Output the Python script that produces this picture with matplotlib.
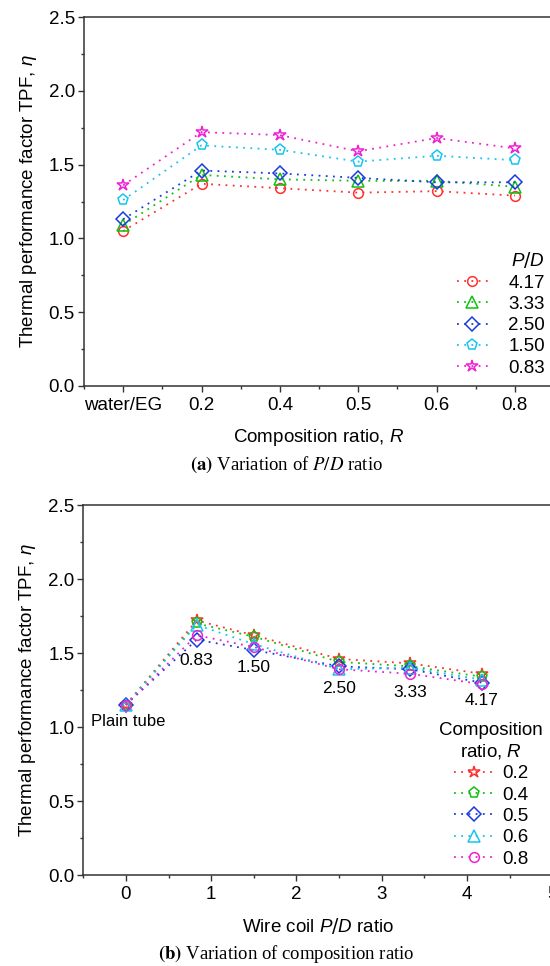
import numpy as np
import matplotlib
matplotlib.use('Agg')
import matplotlib.pyplot as plt
from matplotlib.ticker import MultipleLocator, FixedLocator

plt.rcParams['font.family'] = ['Liberation Sans', 'DejaVu Sans']
plt.rcParams['mathtext.fontset'] = 'custom'
plt.rcParams['mathtext.it'] = 'Liberation Sans:italic'

# panel (a): TPF vs composition ratio, one series per P/D
R_labels = ['water/EG', '0.2', '0.4', '0.5', '0.6', '0.8']
pd_names = ['4.17', '3.33', '2.50', '1.50', '0.83']
tpf_pd_417 = [1.05, 1.37, 1.34, 1.31, 1.32, 1.29]
tpf_pd_333 = [1.09, 1.43, 1.40, 1.39, 1.39, 1.35]
tpf_pd_250 = [1.13, 1.46, 1.44, 1.41, 1.38, 1.38]
tpf_pd_150 = [1.26, 1.63, 1.60, 1.52, 1.56, 1.53]
tpf_pd_083 = [1.36, 1.72, 1.70, 1.59, 1.68, 1.61]

# panel (b): TPF vs P/D, one series per composition ratio
pd_x = [0, 0.83, 1.5, 2.5, 3.33, 4.17]
pd_text = ['0.83', '1.50', '2.50', '3.33', '4.17']
r_names = ['0.2', '0.4', '0.5', '0.6', '0.8']
tpf_r_02 = [1.15, 1.72, 1.62, 1.46, 1.43, 1.36]
tpf_r_04 = [1.15, 1.70, 1.61, 1.44, 1.41, 1.34]
tpf_r_05 = [1.15, 1.59, 1.52, 1.41, 1.39, 1.30]
tpf_r_06 = [1.15, 1.69, 1.56, 1.39, 1.40, 1.32]
tpf_r_08 = [1.15, 1.62, 1.54, 1.39, 1.36, 1.29]

red = '#FF3030'
green = '#10C010'
blue = '#1A3AE0'
cyan = '#18C4F0'
mag = '#EE22D0'
dots = (0, (1, 3))
fs = 13.5

fig = plt.figure(figsize=[5.5, 9.66], dpi=100)
ax1 = fig.add_axes([84/550, 580/966, 470/550, 369/966])
ax2 = fig.add_axes([83.3/550, 91/966, 469/550, 370/966])

def style_axis(ax):
    ax.set_ylim(0, 2.5)
    ax.yaxis.set_major_locator(MultipleLocator(0.5))
    ax.yaxis.set_minor_locator(MultipleLocator(0.25))
    ax.tick_params(which='both', direction='out', labelsize=fs, colors='#333333', labelcolor='black')
    ax.tick_params(which='major', length=4.5, width=1)
    ax.tick_params(which='minor', length=2.5, width=1)
    ax.tick_params(axis='y', pad=2)
    for sp in ax.spines.values():
        sp.set_color('#333333')
        sp.set_linewidth(1.1)
    ax.set_ylabel('Thermal performance factor TPF, $\\eta$', fontsize=fs, labelpad=7)

# ---- (a)
xi = np.arange(len(R_labels))
series_a = [tpf_pd_417, tpf_pd_333, tpf_pd_250, tpf_pd_150, tpf_pd_083]
cols_a = [red, green, blue, cyan, mag]
marks_a = ['o', '^', 'D', 'p', '*']
sizes_a = [7, 8, 7, 8, 9]
for ys, c, m, ms, nm in zip(series_a, cols_a, marks_a, sizes_a, pd_names):
    ax1.plot(xi, ys, linestyle=dots, color=c, lw=1.3, marker=m, ms=ms,
             mfc='none', mec=c, mew=1.1, label=nm)
ax1.set_xlim(-0.5, 5.5)
ax1.xaxis.set_major_locator(FixedLocator(xi))
ax1.xaxis.set_minor_locator(FixedLocator(np.arange(-0.5, 6, 1)))
ax1.set_xticklabels(R_labels)
style_axis(ax1)
ax1.set_xlabel('Composition ratio, $\\mathit{R}$', fontsize=fs, labelpad=9)
leg = ax1.legend(title='$\\mathit{P/D}$', loc='lower right', bbox_to_anchor=(0.997, 0.005),
                 frameon=False, fontsize=fs, title_fontsize=fs, handlelength=1.65,
                 handletextpad=1.1, labelspacing=0.22, borderaxespad=0)
leg._legend_box.align = 'right'

# ---- (b)
series_b = [tpf_r_02, tpf_r_04, tpf_r_05, tpf_r_06, tpf_r_08]
cols_b = [red, green, blue, cyan, mag]
marks_b = ['*', 'p', 'D', '^', 'o']
sizes_b = [9, 8, 7, 8, 7]
for ys, c, m, ms, nm in zip(series_b, cols_b, marks_b, sizes_b, r_names):
    ax2.plot(pd_x, ys, linestyle=dots, color=c, lw=1.3, marker=m, ms=ms,
             mfc='none', mec=c, mew=1.1, label=nm)
ax2.set_xlim(-0.5, 5.0)
ax2.xaxis.set_major_locator(MultipleLocator(1))
ax2.xaxis.set_minor_locator(MultipleLocator(0.5))
style_axis(ax2)
ax2.set_xlabel('Wire coil $\\mathit{P/D}$ ratio', fontsize=fs, labelpad=9)
leg2 = ax2.legend(title='Composition\nratio, $\\mathit{R}$', loc='lower right',
                  bbox_to_anchor=(0.996, 0.0), frameon=False, fontsize=fs, title_fontsize=fs,
                  handlelength=2.2, handletextpad=0.4, labelspacing=0.22, borderaxespad=0)
leg2.get_title().set_multialignment('center')

ax2.text(-0.41, 1.04, 'Plain tube', fontsize=12, va='center', ha='left')
text_y = [1.45, 1.40, 1.26, 1.23, 1.18]
for px, lbl, ty in zip(pd_x[1:], pd_text, text_y):
    ax2.text(px, ty, lbl, fontsize=12.5, ha='center', va='center')

# captions
fig.text(286/550, 1 - 465/966, r'$\mathbf{(a)}$ Variation of $\mathit{P/D}$ ratio',
         ha='center', va='center', fontsize=13.5, family='Liberation Serif',
         math_fontfamily='stix')
fig.text(286/550, 1 - 954/966, r'$\mathbf{(b)}$ Variation of composition ratio',
         ha='center', va='center', fontsize=13.5, family='Liberation Serif',
         math_fontfamily='stix')

fig.savefig('out.png', dpi=100)
